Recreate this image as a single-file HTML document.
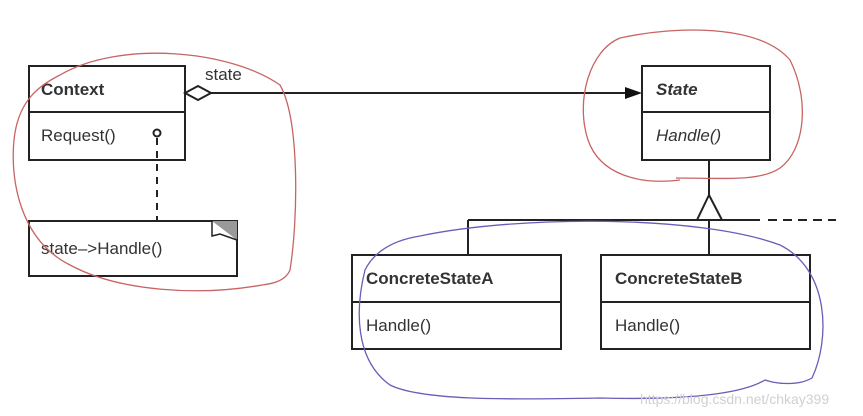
<!DOCTYPE html>
<html><head><meta charset="utf-8"><style>
html,body{margin:0;padding:0;background:#fff;}
svg{display:block;}
text{font-family:"Liberation Sans",Arial,sans-serif;fill:#333;}
</style></head><body>
<svg width="863" height="416" viewBox="0 0 863 416" xmlns="http://www.w3.org/2000/svg">
<rect width="863" height="416" fill="#fff"/>
<g stroke="#222" stroke-width="2" fill="none">
<rect x="29" y="66" width="156" height="94" fill="#fff"/>
<line x1="29" y1="112" x2="185" y2="112"/>
<rect x="642" y="66" width="128" height="94" fill="#fff"/>
<line x1="642" y1="112" x2="770" y2="112"/>
<rect x="352" y="255" width="209" height="94" fill="#fff"/>
<line x1="352" y1="302" x2="561" y2="302"/>
<rect x="601" y="255" width="209" height="94" fill="#fff"/>
<line x1="601" y1="302" x2="810" y2="302"/>
<rect x="29" y="221" width="208" height="55" fill="#fff"/>
<line x1="211" y1="93" x2="628" y2="93"/>
<polygon points="185,93 198,86 211,93 198,100" fill="#fff"/>
<line x1="709" y1="160" x2="709" y2="195"/>
<line x1="468" y1="220" x2="760" y2="220"/>
<polygon points="709,195 697,220 722,220" fill="#fff"/>
<line x1="768" y1="220" x2="836" y2="220" stroke-dasharray="9,6"/>
<line x1="468" y1="220" x2="468" y2="255"/>
<line x1="709" y1="220" x2="709" y2="255"/>
<line x1="157" y1="138" x2="157" y2="220" stroke-dasharray="7,6"/>
<circle cx="157" cy="133" r="3.5" fill="#fff"/>
</g>
<polygon points="625,87 642,93 625,99" fill="#111"/>
<polygon points="212,221 237,221 237,240" fill="#999"/>
<path d="M212,221 L212,236 L220,234 L237,240" stroke="#222" stroke-width="1.5" fill="none"/>
<text x="205" y="80" font-size="17">state</text>
<text x="41" y="95" font-size="17" font-weight="bold">Context</text>
<text x="41" y="141" font-size="17">Request()</text>
<text x="41" y="254" font-size="17">state–&gt;Handle()</text>
<text x="656" y="95" font-size="17" font-weight="bold" font-style="italic">State</text>
<text x="656" y="141" font-size="17" font-style="italic">Handle()</text>
<text x="366" y="284" font-size="17" font-weight="bold">ConcreteStateA</text>
<text x="366" y="331" font-size="17">Handle()</text>
<text x="615" y="284" font-size="17" font-weight="bold">ConcreteStateB</text>
<text x="615" y="331" font-size="17">Handle()</text>
<path d="M60,75 C120,40 230,50 280,85 C300,120 298,220 290,270 C285,282 270,284 262,285 C200,296 120,292 70,265 C20,240 10,180 14,140 C18,100 40,85 60,75" stroke="#c86464" stroke-width="1.3" fill="none"/>
<path d="M680,180 C640,185 600,175 588,140 C575,100 590,50 620,38 C680,25 760,25 790,60 C810,100 805,150 780,168 C760,182 720,178 676,178" stroke="#c86464" stroke-width="1.3" fill="none"/>
<path d="M420,236 C520,215 700,215 780,245 C830,270 830,340 812,378 C800,385 780,385 765,380 C740,395 680,400 600,398 C500,400 420,400 390,385 C355,360 355,310 365,270 C375,250 395,240 420,236" stroke="#6a5cb8" stroke-width="1.3" fill="none"/>
<text x="640" y="404" font-size="14" style="fill:#d0d0d0">https://blog.csdn.net/chkay399</text>
</svg>
</body></html>
